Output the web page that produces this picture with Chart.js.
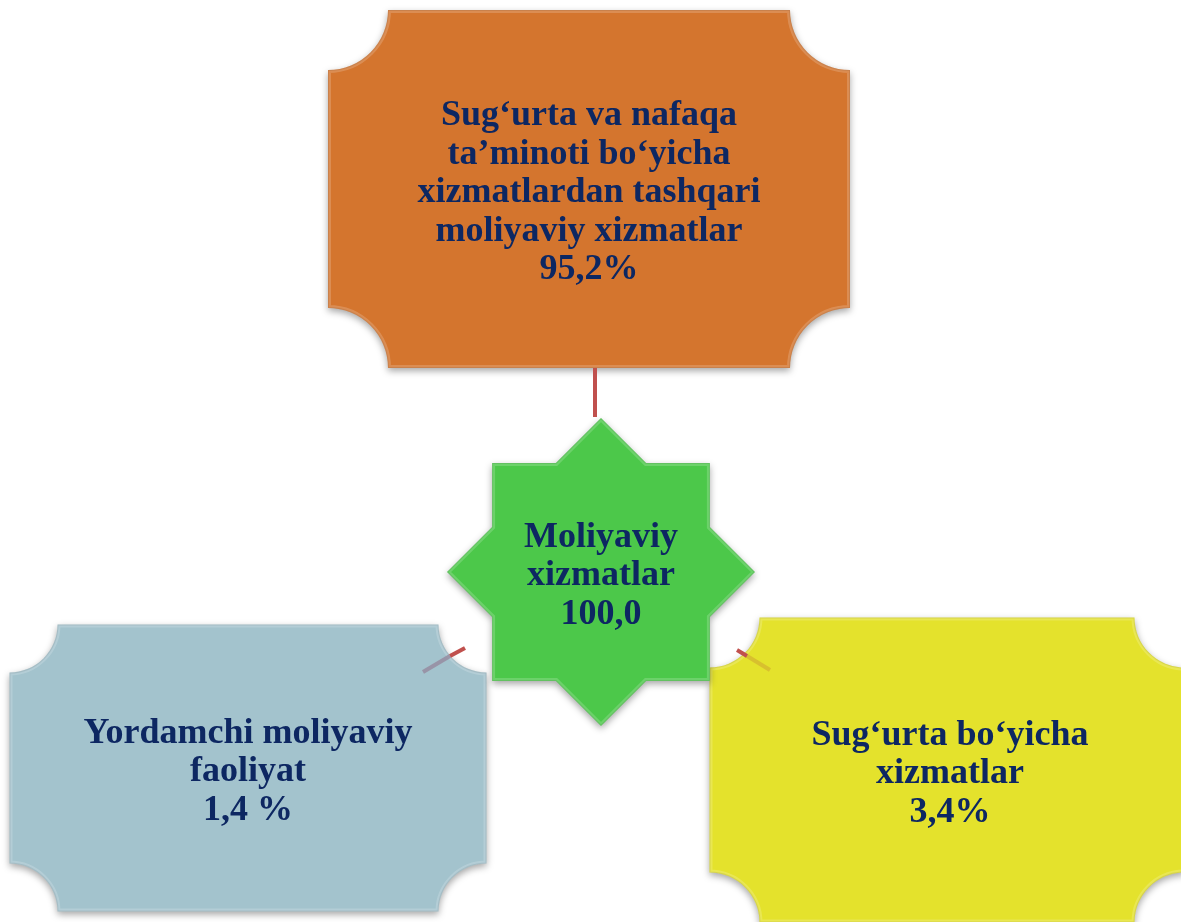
<!DOCTYPE html>
<html>
<head>
<meta charset="utf-8">
<script src="https://cdn.jsdelivr.net/npm/chart.js@4/dist/chart.umd.min.js"></script>
<style>
  html, body { margin: 0; padding: 0; background: #ffffff; }
  #wrap { width: 1181px; height: 922px; position: relative; }
</style>
</head>
<body>
<div id="wrap"><canvas id="c"></canvas></div>
<script>
// ma'lumotlar: moliyaviy xizmatlar tarkibi (%)
const nodeLabels = [
  ['Moliyaviy', 'xizmatlar'],
  ['Sug‘urta va nafaqa', 'ta’minoti bo‘yicha', 'xizmatlardan tashqari', 'moliyaviy xizmatlar'],
  ['Sug‘urta bo‘yicha', 'xizmatlar'],
  ['Yordamchi moliyaviy', 'faoliyat']
];
const shareValues = [100.0, 95.2, 3.4, 1.4];
const valueSuffix = ['', '%', '%', ' %'];

// joylashuv (chart birliklarida)
const nodeX = [601, 589, 947, 248];
const nodeY = [572, 189, 770, 768];
const nodeW = [308, 522, 475, 477];
const nodeH = [308, 358, 305, 287];
const cornerR = [0, 60, 50, 48];
const nodeShape = ['star', 'box', 'box', 'box'];
const nodeColor = ['#4cc84a', '#d4752e', '#e4e22c', '#a3c3cd'];

// bog'lovchi chiziqlar
const links = [
  { pts: [[595, 368], [595, 417]], color: '#c0504d' },
  { pts: [[423, 672], [450, 656]], color: 'rgba(150,140,160,0.85)' },
  { pts: [[450, 656], [465, 648]], color: '#c0504d' },
  { pts: [[737, 650], [747, 656]], color: '#c0504d' },
  { pts: [[747, 656], [770, 670]], color: '#d8c02e' }
];

const fmtVal = (v, i) => v.toFixed(1).replace('.', ',') + valueSuffix[i];

function boxPath(ctx, x, y, w, h, r) {
  ctx.beginPath();
  ctx.moveTo(x + r, y);
  ctx.lineTo(x + w - r, y);
  ctx.arc(x + w, y, r, Math.PI, Math.PI / 2, true);
  ctx.lineTo(x + w, y + h - r);
  ctx.arc(x + w, y + h, r, -Math.PI / 2, -Math.PI, true);
  ctx.lineTo(x + r, y + h);
  ctx.arc(x, y + h, r, 0, -Math.PI / 2, true);
  ctx.lineTo(x, y + r);
  ctx.arc(x, y, r, Math.PI / 2, 0, true);
  ctx.closePath();
}

function starPath(ctx, cx, cy, R) {
  const r = R * Math.cos(Math.PI / 4) / Math.cos(Math.PI / 8);
  ctx.beginPath();
  for (let k = 0; k < 16; k++) {
    const a = -Math.PI / 2 + k * Math.PI / 8;
    const rad = k % 2 === 0 ? R : r;
    const px = cx + rad * Math.cos(a), py = cy + rad * Math.sin(a);
    if (k === 0) ctx.moveTo(px, py); else ctx.lineTo(px, py);
  }
  ctx.closePath();
}

const shapesPlugin = {
  id: 'shapes',
  beforeDatasetsDraw(chart) {
    const ctx = chart.ctx;
    const xs = chart.scales.x, ys = chart.scales.y;
    const meta = chart.getDatasetMeta(0);
    const order = [1, 2, 3, 0];
    order.forEach(i => {
      const pt = meta.data[i];
      const cx = pt.x, cy = pt.y;
      const w = xs.getPixelForValue(nodeX[i] + nodeW[i] / 2) - xs.getPixelForValue(nodeX[i] - nodeW[i] / 2);
      const h = Math.abs(ys.getPixelForValue(nodeY[i] + nodeH[i] / 2) - ys.getPixelForValue(nodeY[i] - nodeH[i] / 2));
      const mk = () => nodeShape[i] === 'star'
        ? starPath(ctx, cx, cy, w / 2)
        : boxPath(ctx, cx - w / 2, cy - h / 2, w, h, cornerR[i]);

      ctx.save();
      ctx.shadowColor = 'rgba(0,0,0,0.35)';
      ctx.shadowBlur = 7;
      ctx.shadowOffsetY = 3;
      mk();
      ctx.fillStyle = nodeColor[i];
      ctx.fill();
      ctx.restore();

      // yengil bo'rtma chegarasi
      ctx.save();
      mk();
      ctx.clip();
      ctx.lineWidth = 6;
      ctx.strokeStyle = 'rgba(255,255,255,0.18)';
      ctx.stroke();
      ctx.lineWidth = 2;
      ctx.strokeStyle = 'rgba(0,0,0,0.08)';
      ctx.stroke();
      ctx.restore();

      const lines = nodeLabels[i].concat([fmtVal(shareValues[i], i)]);
      const lh = 38.5;
      ctx.save();
      ctx.font = 'bold 36px "Liberation Serif", "Times New Roman", serif';
      ctx.fillStyle = '#0d2762';
      ctx.textAlign = 'center';
      ctx.textBaseline = 'middle';
      const y0 = cy + 4 - (lines.length - 1) * lh / 2;
      lines.forEach((t, k) => ctx.fillText(t, cx + (i === 2 ? 3 : 0), y0 + k * lh));
      ctx.restore();
    });
  }
};

const datasets = [{
  type: 'scatter',
  label: 'tugunlar',
  data: nodeX.map((x, i) => ({ x, y: nodeY[i] })),
  pointRadius: 0,
  pointHoverRadius: 0
}].concat(links.map(l => ({
  type: 'line',
  data: l.pts.map(p => ({ x: p[0], y: p[1] })),
  borderColor: l.color,
  borderWidth: 4,
  pointRadius: 0,
  fill: false,
  tension: 0
})));

new Chart(document.getElementById('c'), {
  type: 'scatter',
  data: { datasets },
  options: {
    responsive: true,
    maintainAspectRatio: false,
    animation: false,
    events: [],
    layout: { padding: 0 },
    plugins: { legend: { display: false }, tooltip: { enabled: false } },
    scales: {
      x: { type: 'linear', min: 0, max: 1181, display: false },
      y: { type: 'linear', min: 0, max: 922, reverse: true, display: false }
    }
  },
  plugins: [shapesPlugin]
});
</script>
</body>
</html>
